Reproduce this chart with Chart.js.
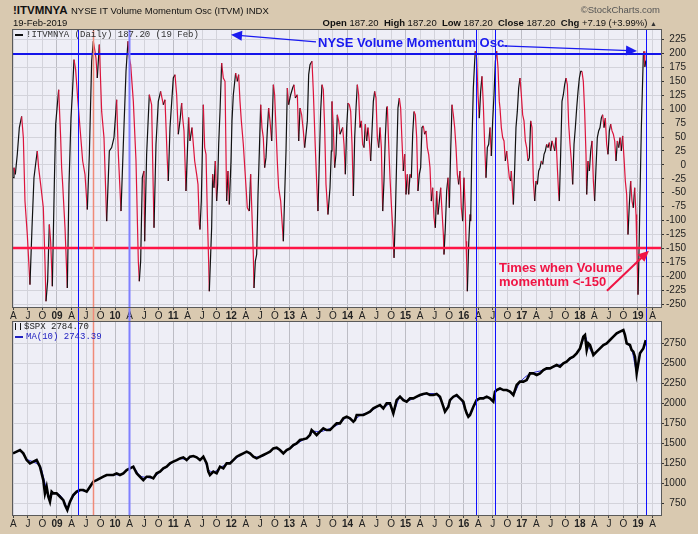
<!DOCTYPE html>
<html>
<head>
<meta charset="utf-8">
<script src="https://cdn.jsdelivr.net/npm/chart.js@4.4.1/dist/chart.umd.min.js"></script>
<style>
  body { margin: 0; width: 698px; height: 534px; overflow: hidden; position: relative;
         background: #d9c9b0; font-family: "Liberation Sans", Arial, sans-serif; color: #111; }
  .abs { position: absolute; white-space: nowrap; }
  .mono { font-family: "Liberation Mono", "DejaVu Sans Mono", monospace; font-size: 9px; }
  .wrap { position: absolute; left: 0; width: 686px; }
</style>
</head>
<body>
<div class="wrap" style="top:29px;height:291px"><canvas id="oscChart"></canvas></div>
<div class="wrap" style="top:320px;height:214px"><canvas id="spxChart"></canvas></div>

<div class="abs" style="left:13px;top:4px;font-size:11.5px;font-weight:bold">!ITVMNYA</div>
<div class="abs" style="left:71px;top:5px;font-size:9.5px">NYSE IT Volume Momentum Osc (ITVM) INDX</div>
<div class="abs" style="left:13px;top:17px;font-size:9.5px">19-Feb-2019</div>
<div class="abs" style="right:38px;top:4px;font-size:9.5px;color:#555">&copy;StockCharts.com</div>
<div class="abs" style="right:41px;top:17px;font-size:9.5px"><b>Open</b> 187.20 &nbsp;<b>High</b> 187.20 &nbsp;<b>Low</b> 187.20 &nbsp;<b>Close</b> 187.20 &nbsp;<b>Chg</b> +7.19 (+3.99%) <span style="font-size:7px;color:#333">&#9650;</span></div>

<div class="abs mono" style="left:15px;top:30px;color:#333"><span style="display:inline-block;width:8px;height:2px;background:#111;vertical-align:middle;margin-right:3px"></span>!ITVMNYA (Daily) 187.20 (19 Feb)</div>
<div class="abs mono" style="left:15px;top:322px;color:#222"><span style="display:inline-block;width:4px;height:7px;border-left:1px solid #111;border-right:1px solid #111;vertical-align:middle;margin-right:3px"></span>$SPX 2784.70</div>
<div class="abs mono" style="left:15px;top:332px;color:#2020c0"><span style="display:inline-block;width:8px;height:2px;background:#2020c0;vertical-align:middle;margin-right:3px"></span>MA(10) 2743.39</div>

<div class="abs" style="left:318px;top:35px;font-size:13px;font-weight:bold;color:#1a1af0">NYSE Volume Momentum Osc.</div>
<div class="abs" style="left:499px;top:261px;font-size:13px;font-weight:bold;color:#f01444;line-height:14px">Times when Volume<br>momentum &lt;-150</div>

<script>
// NYSE IT Volume Momentum Osc, daily turning points (decimal year, value)
const oscDates = [
  2008.243,2008.260,2008.283,2008.317,2008.352,2008.392,2008.421,2008.449,2008.489,2008.535,
  2008.570,2008.604,2008.639,2008.661,2008.684,2008.719,2008.765,2008.793,2008.811,2008.839,
  2008.868,2008.891,2008.920,2008.954,2008.977,2009.006,2009.029,2009.063,2009.080,2009.098,
  2009.138,2009.178,2009.207,2009.241,2009.264,2009.293,2009.321,2009.356,2009.396,2009.442,
  2009.482,2009.522,2009.557,2009.597,2009.625,2009.654,2009.671,2009.694,2009.729,2009.769,
  2009.809,2009.855,2009.901,2009.941,2009.981,2010.027,2010.056,2010.102,2010.142,2010.188,
  2010.222,2010.245,2010.268,2010.314,2010.360,2010.400,2010.417,2010.440,2010.469,2010.497,
  2010.509,2010.543,2010.589,2010.629,2010.647,2010.670,2010.704,2010.744,2010.784,2010.830,
  2010.859,2010.899,2010.916,2010.945,2011.002,2011.031,2011.060,2011.088,
  2011.117,2011.146,2011.163,2011.186,2011.209,2011.220,2011.243,2011.266,2011.289,2011.324,
  2011.347,2011.370,2011.404,2011.427,2011.450,2011.461,2011.484,2011.507,2011.519,2011.542,
  2011.565,2011.588,2011.610,2011.622,2011.645,2011.662,2011.679,2011.702,2011.725,2011.748,
  2011.765,2011.783,2011.806,2011.834,2011.863,2011.892,2011.920,2011.943,2011.966,2011.995,
  2012.012,2012.035,2012.075,2012.104,2012.127,2012.150,2012.173,2012.207,2012.236,2012.276,
  2012.310,2012.333,2012.356,2012.379,2012.391,2012.414,2012.437,2012.460,2012.483,2012.506,
  2012.528,2012.551,2012.574,2012.597,2012.620,2012.643,2012.666,2012.695,2012.724,2012.746,
  2012.769,2012.792,2012.815,2012.850,2012.873,2012.896,2012.919,2012.942,2012.965,2012.987,
  2013.022,2013.056,2013.079,2013.102,2013.137,2013.160,2013.183,2013.211,2013.240,2013.263,
  2013.286,2013.309,2013.332,2013.355,2013.389,2013.412,2013.446,2013.469,2013.492,2013.515,
  2013.538,2013.561,2013.584,2013.607,2013.630,2013.664,2013.699,2013.722,2013.733,2013.756,
  2013.779,2013.802,2013.825,2013.848,2013.871,
  2013.917,2013.940,2013.963,2013.986,2014.009,2014.032,2014.055,2014.078,2014.101,2014.124,
  2014.147,2014.169,2014.192,2014.215,2014.238,2014.261,2014.284,2014.307,2014.330,2014.353,
  2014.376,2014.399,2014.422,2014.445,2014.468,2014.491,2014.514,2014.537,2014.560,2014.583,
  2014.606,2014.628,2014.651,2014.674,2014.686,2014.709,2014.732,2014.755,2014.778,2014.801,
  2014.824,2014.846,2014.869,2014.892,2014.915,2014.938,2014.961,2014.984,2015.007,2015.030,
  2015.053,2015.076,2015.099,2015.122,2015.145,2015.168,2015.191,2015.213,2015.236,2015.259,
  2015.282,2015.305,2015.328,2015.351,2015.374,2015.397,2015.420,2015.443,2015.466,2015.489,
  2015.512,2015.535,2015.558,2015.581,2015.604,2015.627,2015.650,2015.661,2015.684,2015.707,
  2015.730,2015.753,2015.776,2015.799,2015.822,2015.845,2015.868,2015.891,2015.913,2015.936,
  2015.959,2015.982,2016.005,2016.028,2016.040,2016.051,2016.063,2016.086,2016.109,2016.120,
  2016.143,2016.166,2016.189,2016.200,2016.223,2016.246,2016.269,2016.292,2016.315,2016.338,
  2016.361,2016.384,2016.407,2016.430,2016.453,2016.476,2016.499,2016.522,2016.545,2016.568,
  2016.591,2016.613,
  2016.625,2016.648,2016.671,2016.694,2016.717,2016.740,2016.763,2016.786,2016.809,2016.820,
  2016.843,2016.855,2016.878,2016.900,2016.923,2016.946,2016.969,2016.992,2017.015,2017.038,
  2017.061,2017.084,2017.107,2017.130,2017.153,2017.176,2017.199,2017.222,2017.245,2017.268,
  2017.291,2017.314,2017.337,2017.360,2017.383,2017.405,2017.428,2017.451,2017.474,2017.497,
  2017.520,2017.543,2017.566,2017.589,2017.612,2017.635,2017.646,2017.669,2017.692,2017.715,
  2017.738,2017.761,2017.784,2017.807,2017.830,2017.853,2017.876,2017.899,2017.922,2017.945,
  2017.968,2017.991,2018.014,2018.036,2018.059,2018.082,2018.105,2018.117,2018.140,2018.163,
  2018.186,2018.209,2018.232,2018.254,2018.277,2018.300,2018.323,2018.346,2018.369,2018.392,
  2018.415,2018.438,2018.461,2018.484,2018.507,2018.530,2018.553,2018.576,2018.599,2018.622,
  2018.645,2018.668,2018.691,2018.713,2018.736,2018.759,2018.782,2018.805,2018.828,2018.851,
  2018.874,2018.897,2018.920,2018.943,2018.966,2018.977,2018.989,2019.000,2019.012,2019.023,
  2019.035,2019.058,2019.081,2019.092,2019.104,2019.118,2019.135
];
const oscValues = [
  -23,-5,-17,19,67,87,49,-65,-125,-215,
  -113,-23,7,25,-5,-35,-77,-173,-245,-209,
  -107,-137,-218,-35,73,108,135,49,-5,-35,
  -113,-221,-35,84,126,189,171,120,67,7,
  -17,-80,19,186,222,204,192,156,216,96,
  49,-101,25,31,49,117,19,-83,37,168,
  222,192,180,114,7,-173,-209,-173,-23,-11,
  -137,19,126,108,7,-113,37,114,132,108,
  117,7,-29,67,156,162,126,55,
  79,111,85,61,-11,-47,19,85,43,67,
  37,7,-17,-35,-107,-116,-65,49,108,31,
  19,-89,-173,-227,-161,-113,-17,-41,7,-65,
  -35,37,96,183,156,150,-65,-11,-71,7,
  79,126,165,150,162,114,79,37,-11,-77,
  -83,-17,-89,-161,-221,-173,-161,-53,25,108,
  67,49,-5,13,61,102,79,43,144,126,
  67,7,-41,-65,-101,-137,-53,25,138,108,
  126,138,144,120,126,43,102,90,61,31,
  55,79,162,180,186,132,31,-29,-83,7,
  96,144,135,67,-35,-89,-41,25,114,67,
  -5,19,90,79,55,
  67,37,-17,67,111,108,96,37,-56,49,
  102,144,126,67,79,37,31,73,43,67,
  43,7,61,114,132,120,49,31,67,31,
  -83,-29,49,102,105,37,-23,-71,-113,-167,
  -89,7,102,120,102,43,-11,19,-53,-17,
  -53,-17,-23,55,96,90,49,-47,-17,-5,
  67,70,55,61,31,19,-5,-65,-41,-95,
  -113,-47,-89,-65,-41,-83,-125,-161,-113,-47,
  -23,-77,25,108,90,67,31,-17,-35,-11,
  -77,-101,-23,-83,-137,-173,-227,-143,-89,-101,
  43,138,186,204,192,126,84,132,159,108,
  37,-23,31,37,67,16,79,126,186,204,
  174,114,
  102,67,49,43,7,25,1,-23,-29,-11,
  -53,-71,-5,67,96,138,156,126,90,79,
  43,31,7,13,79,67,-29,-65,-29,-35,
  -11,-5,7,1,19,25,37,31,40,25,
  43,34,25,49,-5,-53,-65,19,114,126,
  144,156,144,73,37,7,-35,37,67,102,
  132,156,168,168,150,96,19,-53,7,-11,
  25,43,-29,-65,-5,49,61,67,84,90,
  67,84,37,19,61,73,61,55,43,7,
  43,31,49,25,52,13,-29,-53,-125,-71,
  -29,-65,-77,-41,-89,-137,-185,-233,-185,-125,
  -53,67,156,198,204,176,187.2
];

// S&P 500 close, turning points
const spxDates = [
  2008.243,2008.306,2008.363,2008.421,2008.478,2008.535,2008.593,2008.650,2008.707,2008.765,
  2008.793,2008.822,2008.851,2008.879,2008.908,2008.937,2008.994,2009.052,2009.109,2009.138,
  2009.178,2009.224,2009.281,2009.338,2009.396,2009.453,2009.511,2009.568,2009.625,2009.683,
  2009.740,2009.797,2009.855,2009.912,2009.970,2010.027,2010.084,2010.142,2010.199,2010.256,
  2010.314,2010.371,2010.429,2010.486,2010.543,2010.601,2010.658,2010.715,2010.773,2010.830,
  2010.888,2010.945,2011.002,2011.060,2011.117,2011.174,2011.232,2011.289,2011.347,2011.404,
  2011.461,2011.519,2011.576,2011.605,2011.633,2011.691,2011.748,2011.806,2011.863,2011.920,
  2011.978,2012.035,2012.092,2012.150,2012.207,2012.265,2012.322,2012.380,2012.437,2012.494,
  2012.552,2012.609,2012.666,2012.724,2012.781,2012.838,2012.896,2012.953,2013.010,2013.068,
  2013.125,2013.182,2013.240,2013.297,2013.354,2013.383,2013.412,2013.469,2013.526,2013.584,
  2013.641,2013.699,2013.756,2013.813,2013.871,2013.929,2013.986,2014.043,2014.101,2014.129,
  2014.158,2014.215,2014.273,2014.330,2014.387,2014.445,2014.502,2014.560,2014.617,2014.674,
  2014.732,2014.789,2014.818,2014.846,2014.904,2014.961,2015.019,2015.076,2015.133,2015.191,
  2015.248,2015.305,2015.363,2015.420,2015.478,2015.535,2015.592,2015.650,2015.678,2015.736,
  2015.764,2015.822,2015.879,2015.937,2015.994,2016.023,2016.051,2016.080,2016.109,2016.166,
  2016.223,2016.281,2016.338,2016.396,2016.453,2016.482,2016.510,2016.539,2016.568,2016.625,
  2016.683,2016.740,2016.797,2016.855,2016.883,2016.912,2016.969,2017.027,2017.084,2017.141,
  2017.199,2017.256,2017.313,2017.371,2017.428,2017.486,2017.543,2017.600,2017.658,2017.715,
  2017.772,2017.830,2017.887,2017.944,2018.002,2018.059,2018.088,2018.117,2018.145,2018.174,
  2018.232,2018.289,2018.346,2018.404,2018.461,2018.518,2018.576,2018.633,2018.690,2018.748,
  2018.776,2018.805,2018.862,2018.891,2018.920,2018.948,2018.977,2019.006,2019.034,2019.092,
  2019.135
];
const spxValues = [
  1371,1392,1412,1371,1287,1246,1267,1287,1204,1037,
  871,954,829,767,892,871,871,829,787,725,
  663,767,850,892,912,912,892,954,1017,1037,
  1058,1079,1100,1100,1100,1121,1100,1121,1162,1183,
  1204,1121,1079,1037,1079,1079,1058,1121,1142,1183,
  1204,1246,1267,1287,1308,1321,1287,1329,1337,1321,
  1287,1329,1246,1142,1100,1142,1121,1204,1183,1246,
  1246,1287,1329,1350,1371,1392,1371,1329,1308,1329,
  1350,1371,1392,1433,1442,1412,1371,1412,1433,1475,
  1496,1537,1546,1558,1600,1662,1642,1600,1642,1683,
  1662,1662,1704,1746,1746,1808,1829,1808,1767,1787,
  1850,1850,1850,1871,1892,1933,1954,1975,1933,1996,
  1996,1871,1954,2037,2079,2037,2017,2058,2058,2079,
  2100,2112,2121,2100,2100,2112,2079,1954,1892,1954,
  2037,2079,2100,2058,2017,1933,1871,1829,1850,1954,
  2037,2058,2058,2079,2058,2037,2017,2142,2162,2183,
  2162,2162,2142,2100,2162,2225,2267,2267,2287,2371,
  2371,2350,2371,2412,2433,2433,2454,2475,2454,2496,
  2517,2558,2579,2621,2683,2829,2850,2662,2746,2725,
  2600,2642,2683,2725,2746,2787,2829,2871,2892,2912,
  2850,2746,2725,2662,2642,2579,2371,2496,2621,2683,
  2784.7
];

// 10-day moving average of $SPX, read coarser
const maDates = [
  2008.243,2008.363,2008.478,2008.593,2008.707,2008.765,2008.822,2008.879,2008.937,2009.052,
  2009.138,2009.178,2009.281,2009.396,2009.511,2009.625,2009.740,2009.855,2009.970,2010.084,
  2010.199,2010.314,2010.429,2010.543,2010.658,2010.773,2010.888,2011.002,2011.117,2011.232,
  2011.347,2011.461,2011.519,2011.605,2011.691,2011.806,2011.920,2012.035,2012.150,2012.265,
  2012.380,2012.494,2012.609,2012.724,2012.838,2012.896,2013.010,2013.125,2013.240,2013.354,
  2013.412,2013.526,2013.641,2013.756,2013.871,2013.986,2014.101,2014.215,2014.387,2014.560,
  2014.617,2014.732,2014.789,2014.904,2015.019,2015.191,2015.363,2015.535,2015.650,2015.678,
  2015.822,2015.937,2016.051,2016.109,2016.223,2016.396,2016.510,2016.568,2016.740,2016.855,
  2016.969,2017.141,2017.371,2017.543,2017.715,2017.887,2018.002,2018.088,2018.145,2018.232,
  2018.404,2018.576,2018.748,2018.805,2018.891,2018.977,2019.034,2019.135
];
const maValues = [
  1375,1400,1300,1265,1215,1080,920,830,870,850,
  750,700,830,905,900,1010,1055,1095,1105,1105,
  1155,1195,1090,1070,1065,1140,1200,1265,1305,1295,
  1335,1295,1320,1170,1135,1190,1240,1280,1345,1385,
  1335,1325,1365,1430,1415,1380,1430,1490,1540,1595,
  1645,1640,1665,1700,1745,1820,1775,1845,1890,1970,
  1940,1990,1885,2070,2025,2075,2115,2105,1965,1905,
  2075,2060,1880,1850,2030,2075,2025,2155,2162,2110,
  2260,2365,2410,2450,2495,2575,2680,2835,2720,2620,
  2720,2825,2905,2760,2670,2400,2600,2743.39
];

const oscTicks = [225,200,175,150,125,100,75,50,25,0,-25,-50,-75,-100,-125,-150,-175,-200,-225,-250];
const spxTicks = [2750,2500,2250,2000,1750,1500,1250,1000,750];
const quarterLetters = {3: 'A', 6: 'J', 9: 'O'};
const oscLevels = [200, -150];
const markerDates = [2009.368, 2009.628, 2010.239, 2016.207, 2016.544, 2019.136];

const levelStyles = [{color: '#1414ea', width: 2}, {color: '#ff1446', width: 2.5}];
const markerStyles = [
  {color: '#1010ff', width: 1}, {color: '#f08a78', width: 1.5}, {color: '#7f7fff', width: 2},
  {color: '#1010ff', width: 1}, {color: '#1010ff', width: 1}, {color: '#1010ff', width: 1}
];

Chart.defaults.font.family = '"Liberation Sans", Arial, sans-serif';
Chart.defaults.font.size = 10;
Chart.defaults.color = '#222';
Chart.defaults.animation = false;

function isYear(v) { return Math.round(v * 12) % 12 === 0; }

function xAxis(height) {
  return {
    type: 'linear', min: 2008.243, max: 2019.396,
    afterBuildTicks: s => {
      const t = [];
      for (let y = 2008; y <= 2019; y++) {
        [0, 3, 6, 9].forEach(m => { const v = y + m / 12; if (v >= s.min && v <= s.max) t.push({value: v}); });
      }
      s.ticks = t;
    },
    afterFit: s => { s.height = height; s.paddingLeft = 0; s.paddingRight = 0; },
    grid: {
      color: c => (c.tick && isYear(c.tick.value)) ? '#bcbcc4' : '#d3d3db',
      tickColor: '#444', tickLength: 2
    },
    border: {display: false},
    ticks: {
      autoSkip: false, maxRotation: 0, padding: 0, color: '#222',
      font: c => ({size: 10, weight: (c.tick && isYear(c.tick.value)) ? 'bold' : 'normal'}),
      callback: v => {
        const n = Math.round(v * 12);
        return n % 12 === 0 ? String(Math.floor(n / 12)).slice(2) : quarterLetters[n % 12];
      }
    }
  };
}

function yAxis(min, max, tickValues) {
  return {
    position: 'right', min: min, max: max,
    afterBuildTicks: s => { s.ticks = tickValues.map(v => ({value: v})); },
    afterFit: s => { s.width = 25; s.paddingTop = 0; s.paddingBottom = 0; },
    grid: {color: '#d3d3db', tickColor: '#333', tickLength: 3},
    border: {display: false},
    ticks: {autoSkip: false, crossAlign: 'far', padding: 0, color: '#222', font: {size: 10},
            callback: v => String(v)}
  };
}

const panelFrame = {
  id: 'panelFrame',
  beforeDraw(chart) {
    const {ctx, chartArea: a} = chart;
    ctx.save();
    ctx.fillStyle = '#eeeef6';
    ctx.fillRect(a.left, a.top, a.right - a.left, a.bottom - a.top);
    ctx.restore();
  },
  afterDraw(chart) {
    const {ctx, chartArea: a} = chart;
    ctx.save();
    ctx.strokeStyle = '#5a5a5a';
    ctx.lineWidth = 1;
    ctx.strokeRect(Math.round(a.left) - 0.5, Math.round(a.top) + 0.5, Math.round(a.right - a.left) + 1, Math.round(a.bottom - a.top) - 1);
    ctx.restore();
  }
};

function markerLines(fromY, toY) {
  return {
    id: 'markerLines',
    afterDatasetsDraw(chart) {
      const {ctx, scales: {x}} = chart;
      const y0 = fromY(chart), y1 = toY(chart);
      markerDates.forEach((d, i) => {
        const px = Math.round(x.getPixelForValue(d)) + 0.5;
        ctx.save();
        ctx.strokeStyle = markerStyles[i].color;
        ctx.lineWidth = markerStyles[i].width;
        ctx.beginPath(); ctx.moveTo(px, y0); ctx.lineTo(px, y1); ctx.stroke();
        ctx.restore();
      });
    }
  };
}

const levelLines = {
  id: 'levelLines',
  afterDatasetsDraw(chart) {
    const {ctx, chartArea: a, scales: {y}} = chart;
    oscLevels.forEach((v, i) => {
      const py = Math.round(y.getPixelForValue(v));
      ctx.save();
      ctx.strokeStyle = levelStyles[i].color;
      ctx.lineWidth = levelStyles[i].width;
      ctx.beginPath(); ctx.moveTo(a.left, py); ctx.lineTo(a.right, py); ctx.stroke();
      ctx.restore();
    });
  }
};

// annotation arrows in data coordinates
const arrows = [
  {from: [2013.458, 221], to: [2011.995, 233.6], color: '#1a1af0', width: 1.2},
  {from: [2016.676, 213.8], to: [2018.983, 204.5], color: '#1a1af0', width: 1.2},
  {from: [2018.466, -226], to: [2019.189, -154], color: '#f01444', width: 2}
];

function drawArrow(ctx, x0, y0, x1, y1, color, width) {
  const head = 11, half = 5;
  const ang = Math.atan2(y1 - y0, x1 - x0);
  const c = Math.cos(ang), s = Math.sin(ang);
  ctx.save();
  ctx.strokeStyle = color; ctx.fillStyle = color; ctx.lineWidth = width;
  ctx.beginPath(); ctx.moveTo(x0, y0); ctx.lineTo(x1 - head * 0.7 * c, y1 - head * 0.7 * s); ctx.stroke();
  ctx.beginPath();
  ctx.moveTo(x1, y1);
  ctx.lineTo(x1 - head * c + half * s, y1 - head * s - half * c);
  ctx.lineTo(x1 - head * c - half * s, y1 - head * s + half * c);
  ctx.closePath(); ctx.fill();
  ctx.restore();
}

const arrowNotes = {
  id: 'arrowNotes',
  afterDraw(chart) {
    const {ctx, scales: {x, y}} = chart;
    arrows.forEach(a => drawArrow(ctx,
      x.getPixelForValue(a.from[0]), y.getPixelForValue(a.from[1]),
      x.getPixelForValue(a.to[0]), y.getPixelForValue(a.to[1]), a.color, a.width));
  }
};

new Chart(document.getElementById('oscChart'), {
  type: 'line',
  data: {
    datasets: [{
      data: oscDates.map((t, i) => ({x: t, y: oscValues[i]})),
      borderWidth: 1.2,
      pointRadius: 0,
      tension: 0,
      segment: {borderColor: c => c.p1.parsed.y >= c.p0.parsed.y ? '#111111' : '#dc143c'}
    }]
  },
  options: {
    responsive: true, maintainAspectRatio: false,
    layout: {padding: {left: 13, top: 0, right: 0, bottom: 0}},
    plugins: {legend: {display: false}, tooltip: {enabled: false}},
    scales: {x: xAxis(12), y: yAxis(-257, 244, oscTicks)}
  },
  plugins: [panelFrame, levelLines, markerLines(ch => ch.chartArea.top, ch => ch.height), arrowNotes]
});

new Chart(document.getElementById('spxChart'), {
  type: 'line',
  data: {
    datasets: [
      {
        data: spxDates.map((t, i) => ({x: t, y: spxValues[i]})),
        borderColor: '#000000', borderWidth: 2.6, pointRadius: 0, tension: 0
      },
      {
        data: maDates.map((t, i) => ({x: t, y: maValues[i]})),
        borderColor: '#2a2ad8', borderWidth: 1, pointRadius: 0, tension: 0.3
      }
    ]
  },
  options: {
    responsive: true, maintainAspectRatio: false,
    layout: {padding: {left: 13, top: 1, right: 0, bottom: 0}},
    plugins: {legend: {display: false}, tooltip: {enabled: false}},
    scales: {x: xAxis(18), y: yAxis(588, 3025, spxTicks)}
  },
  plugins: [panelFrame, markerLines(() => 0, ch => ch.chartArea.bottom)]
});
</script>
</body>
</html>
